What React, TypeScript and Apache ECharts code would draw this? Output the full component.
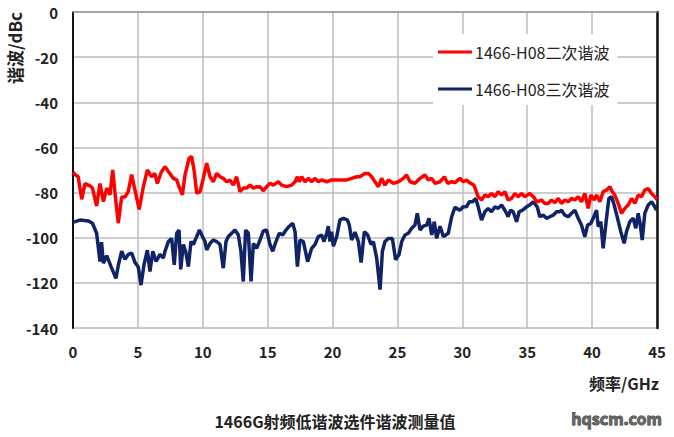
import React, { useEffect, useRef } from "react";
import * as echarts from "echarts";

const seriesNames = ["1466-H08二次谐波", "1466-H08三次谐波"];
const xTicks = [0, 5, 10, 15, 20, 25, 30, 35, 40, 45];
const yTicks = [0, -20, -40, -60, -80, -100, -120, -140];

const redFreq = [0, 0.15, 0.4, 0.67, 0.92, 1.31, 1.5, 1.82, 2.08, 2.34, 2.6, 2.85, 3.06, 3.25, 3.49, 3.75, 4.0, 4.26, 4.52, 4.78, 5.1, 5.4, 5.73, 6.05, 6.3, 6.5, 6.8, 7.09, 7.35, 7.73, 7.99, 8.17, 8.43, 8.63, 8.94, 9.14, 9.35, 9.53, 9.79, 10.04, 10.3, 10.56, 10.81, 11.07, 11.33, 11.58, 11.84, 12.1, 12.35, 12.61, 12.87, 13.12, 13.38, 13.64, 13.9, 14.15, 14.41, 14.67, 14.92, 15.18, 15.44, 15.82, 16.08, 16.46, 16.85, 17.11, 17.29, 17.44, 17.62, 17.88, 18.13, 18.39, 18.65, 18.9, 19.16, 19.55, 19.93, 20.32, 20.7, 21.09, 21.47, 21.86, 22.11, 22.5, 22.76, 23.01, 23.27, 23.53, 23.78, 24.04, 24.3, 24.68, 25.07, 25.45, 25.71, 25.97, 26.35, 26.74, 27.12, 27.38, 27.64, 27.89, 28.28, 28.61, 28.87, 29.18, 29.43, 29.81, 30.07, 30.32, 30.63, 30.89, 31.22, 31.48, 31.74, 31.99, 32.25, 32.51, 32.76, 33.02, 33.28, 33.53, 33.79, 34.05, 34.3, 34.56, 34.82, 35.2, 35.46, 35.77, 36.1, 36.36, 36.62, 36.87, 37.13, 37.39, 37.64, 37.9, 38.16, 38.41, 38.67, 38.93, 39.18, 39.44, 39.7, 39.9, 40.16, 40.34, 40.6, 40.85, 41.11, 41.37, 41.55, 41.75, 42.01, 42.27, 42.52, 42.78, 43.04, 43.29, 43.55, 43.81, 44.06, 44.32, 44.58, 44.83, 45];
const redDbc = [-71, -72, -73, -83, -76, -77, -78, -86, -76, -84, -78, -81, -70, -81, -93.5, -82, -82, -79.5, -72, -79, -87.5, -78, -70, -73, -71.5, -76, -71, -68.5, -70.7, -73.7, -74.4, -77.4, -81, -72.2, -64.9, -64, -70.8, -80.3, -79.6, -73.7, -67, -73, -75.2, -71.5, -73, -73.7, -75.2, -74.5, -76.7, -73, -79.6, -78, -78, -76.7, -78, -77.4, -77.5, -79.2, -77.4, -75.9, -76.7, -75.2, -76.7, -77.4, -76.7, -75.2, -73, -75.2, -73, -75.2, -73.7, -75.2, -73.7, -75.2, -74.4, -75.2, -74.4, -74.4, -74.4, -74.4, -73.7, -73, -73, -71.5, -71.5, -73, -75.2, -77.4, -73.7, -76.7, -74.4, -75.9, -75.2, -73.7, -72.2, -75.2, -75.9, -73.7, -72.2, -74.4, -73.7, -75.9, -75.2, -73, -75.9, -75.2, -75.6, -73.7, -75.2, -74.5, -75.9, -76.7, -81.8, -83.3, -81.1, -81.8, -80.4, -81.8, -79.6, -81.1, -79.6, -83.3, -82.6, -80.4, -81.8, -80.4, -81.8, -80.4, -81.8, -84.1, -83.3, -84.8, -84.8, -83.3, -84.5, -82.6, -84.8, -83.3, -84.1, -82.6, -83.3, -81.8, -84.1, -80.4, -87, -81.1, -83.3, -81.1, -84.1, -79.6, -78.9, -77.4, -79.6, -81.1, -84.8, -89.2, -87, -85.5, -82.6, -84.8, -81.1, -81.8, -78.9, -78.2, -80.4, -81.8, -83];

const blueFreq = [0, 0.15, 0.54, 1.2, 1.5, 1.82, 2.08, 2.2, 2.34, 2.6, 2.95, 3.31, 3.5, 3.75, 4.0, 4.26, 4.52, 4.78, 5.03, 5.24, 5.47, 5.73, 5.93, 6.15, 6.4, 6.7, 6.96, 7.09, 7.35, 7.6, 7.8, 7.99, 8.17, 8.3, 8.5, 8.68, 8.89, 9.09, 9.27, 9.53, 9.74, 9.92, 10.17, 10.3, 10.56, 10.81, 11.07, 11.33, 11.58, 11.79, 11.97, 12.23, 12.48, 12.74, 12.94, 13.12, 13.3, 13.51, 13.72, 13.9, 14.15, 14.41, 14.67, 14.92, 15.18, 15.39, 15.64, 15.9, 16.16, 16.41, 16.67, 16.93, 17.11, 17.29, 17.49, 17.75, 18.08, 18.39, 18.65, 18.9, 19.16, 19.34, 19.55, 19.67, 19.8, 19.93, 20.06, 20.32, 20.57, 20.83, 21.14, 21.29, 21.47, 21.73, 21.99, 22.2, 22.45, 22.71, 22.96, 23.14, 23.4, 23.66, 23.84, 24.04, 24.3, 24.61, 24.86, 25.12, 25.33, 25.58, 25.84, 26.1, 26.35, 26.53, 26.74, 26.99, 27.25, 27.43, 27.64, 27.84, 28.02, 28.28, 28.54, 28.92, 29.18, 29.43, 29.55, 29.81, 30.07, 30.32, 30.53, 30.79, 31.04, 31.22, 31.48, 31.74, 31.99, 32.25, 32.51, 32.76, 33.02, 33.28, 33.53, 33.71, 33.92, 34.18, 34.38, 34.64, 34.95, 35.2, 35.46, 35.77, 35.97, 36.23, 36.49, 36.74, 37.0, 37.26, 37.5, 37.64, 37.9, 38.16, 38.41, 38.67, 38.93, 39.18, 39.44, 39.65, 39.9, 40.08, 40.34, 40.47, 40.67, 40.85, 41.11, 41.29, 41.5, 41.7, 41.96, 42.21, 42.47, 42.65, 42.9, 43.16, 43.37, 43.55, 43.7, 43.86, 44.06, 44.32, 44.58, 44.83, 44.96];
const blueDbc = [-93, -92.9, -92.2, -92.6, -93.6, -98, -110.6, -102, -111.3, -108, -113, -118, -112, -106, -109.6, -107.4, -106.8, -111, -113, -121, -112, -105.5, -115, -106, -110.5, -107.4, -109, -106, -101.7, -100.3, -112, -98, -96.6, -114, -103, -106, -112.8, -101.7, -103, -99.5, -96.6, -98.8, -101.7, -105.4, -102.5, -101, -101.7, -103, -113.5, -101.7, -99.5, -98, -96.6, -98.8, -106, -119.4, -96.6, -98, -119.4, -102.5, -104.7, -101, -97, -96.6, -103, -106, -101.7, -98, -98.8, -96.6, -94.9, -93.6, -97.3, -112.8, -101, -101.7, -110.6, -104.7, -103, -99.5, -98.8, -101.7, -98, -94.9, -101.7, -97.3, -103.8, -99.5, -92.1, -91.4, -92.1, -94.4, -101, -97.5, -101.7, -111, -97.3, -98.8, -103, -101.7, -109, -123, -106, -101.7, -100.3, -100.3, -109.8, -107.5, -101.7, -98.8, -98, -95.8, -94.4, -89.2, -96.6, -94.9, -94.4, -91.4, -98.8, -92.9, -100.3, -94.9, -99.5, -98, -90.7, -86.5, -87, -87.8, -86.3, -86.3, -84.1, -84.1, -82.6, -86.3, -92.2, -88.5, -87, -88.5, -86.3, -87, -85.5, -87.8, -90.7, -87.8, -88.5, -92.9, -88.5, -87.8, -86.3, -85.5, -84.1, -86.3, -90.7, -90, -91.4, -90.7, -90, -88.5, -88.5, -87.8, -90, -90.7, -89.2, -87.8, -91.4, -94.4, -99.6, -94.4, -93.7, -91.4, -87.8, -95.1, -92.9, -104.7, -91.4, -82.6, -81.8, -85.5, -91.4, -97.3, -102.5, -97.3, -92.9, -91.4, -95.8, -89.2, -93.7, -101, -89.2, -85.5, -84.1, -86.3, -87.8];

const FONT = "'Noto Sans CJK SC', 'Noto Sans', sans-serif";

export default function App() {
  const ref = useRef<HTMLDivElement>(null);
  useEffect(() => {
    if (!ref.current) return;
    const chart = echarts.init(ref.current, null, { renderer: "svg" });
    const zip = (xs: number[], ys: number[]) => xs.map((x, i) => [x, ys[i]]);
    chart.setOption({
      animation: false,
      backgroundColor: "#ffffff",
      textStyle: { fontFamily: FONT },
      grid: { left: 73, right: 17, top: 12, bottom: 109, containLabel: false },
      legend: {
        data: seriesNames,
        orient: "vertical",
        left: 433,
        top: 34,
        padding: [10, 8, 8, 5],
        itemGap: 21,
        itemWidth: 34,
        itemHeight: 3,
        icon: "rect",
        backgroundColor: "#ffffff",
        textStyle: { fontFamily: FONT, fontSize: 16, color: "#222", lineHeight: 16, padding: [0, 0, 0, -2] },
      },
      xAxis: {
        type: "value",
        min: xTicks[0],
        max: xTicks[xTicks.length - 1],
        interval: 5,
        axisLine: { show: true, lineStyle: { color: "#999", width: 1.5 } },
        axisTick: { show: false },
        axisLabel: { fontFamily: FONT, fontSize: 15, fontWeight: "bold", color: "#222", margin: 16 },
        splitLine: { show: true, lineStyle: { color: "#bdbdbd", width: 1.5 } },
      },
      yAxis: [
        {
          type: "value",
          min: yTicks[yTicks.length - 1],
          max: yTicks[0],
          interval: 20,
          axisLine: { show: true, lineStyle: { color: "#111", width: 2 } },
          axisTick: { show: false },
          axisLabel: { fontFamily: FONT, fontSize: 15, fontWeight: "bold", color: "#222", margin: 15 },
          splitLine: { show: true, lineStyle: { color: "#bdbdbd", width: 1.5 } },
        },
        {
          type: "value",
          position: "right",
          min: yTicks[yTicks.length - 1],
          max: yTicks[0],
          interval: 20,
          axisLine: { show: true, lineStyle: { color: "#111", width: 2.5 } },
          axisTick: { show: false },
          axisLabel: { show: false },
          splitLine: { show: false },
        },
      ],
      series: [
        {
          name: seriesNames[0],
          type: "line",
          data: zip(redFreq, redDbc),
          showSymbol: false,
          symbol: "none",
          lineStyle: { color: "#ff0000", width: 3.5 },
          itemStyle: { color: "#ff0000" },
          z: 3,
        },
        {
          name: seriesNames[1],
          type: "line",
          data: zip(blueFreq, blueDbc),
          showSymbol: false,
          symbol: "none",
          lineStyle: { color: "#0f2366", width: 3.5 },
          itemStyle: { color: "#0f2366" },
          z: 2,
        },
      ],
      graphic: [
        {
          type: "text",
          rotation: Math.PI / 2,
          x: 14,
          y: 48,
          style: {
            text: "谐波/dBc",
            font: `bold 17px ${FONT}`,
            fill: "#222",
            textAlign: "center",
            textVerticalAlign: "middle",
          },
        },
        {
          type: "text",
          x: 659,
          y: 383,
          style: {
            text: "频率/GHz",
            font: `bold 16px ${FONT}`,
            fill: "#222",
            textAlign: "right",
            textVerticalAlign: "middle",
          },
        },
        {
          type: "text",
          x: 335,
          y: 421,
          style: {
            text: "1466G射频低谐波选件谐波测量值",
            font: `bold 16px ${FONT}`,
            fill: "#222",
            textAlign: "center",
            textVerticalAlign: "middle",
          },
        },
        {
          type: "text",
          x: 662,
          y: 418,
          style: {
            text: "hqscm.com",
            font: `bold 16px ${FONT}`,
            fill: "#666",
            stroke: "#222",
            lineWidth: 0.8,
            textAlign: "right",
            textVerticalAlign: "middle",
          },
        },
      ],
    });
    return () => chart.dispose();
  }, []);
  return <div ref={ref} style={{ width: 674, height: 437, position: "absolute", left: 0, top: 0 }} />;
}
